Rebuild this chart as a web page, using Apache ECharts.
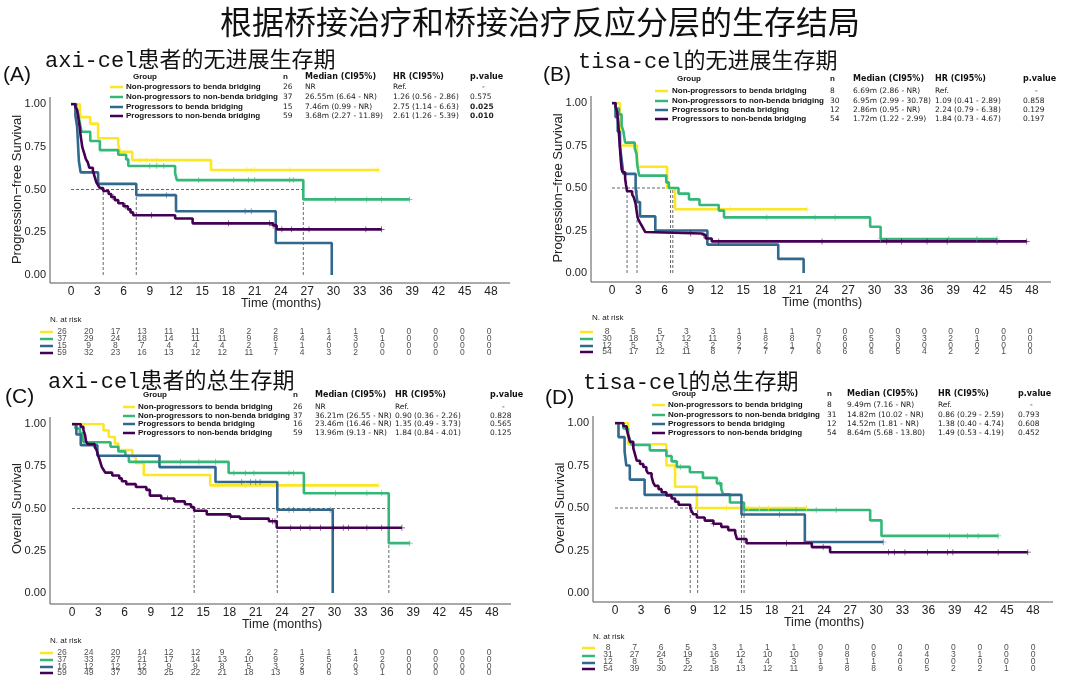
<!DOCTYPE html>
<html><head><meta charset="utf-8">
<script src="https://cdn.jsdelivr.net/npm/echarts/dist/echarts.min.js"></script>
<style>html,body{margin:0;padding:0;background:#fff}#c{width:1080px;height:688px}</style>
</head><body><div id="c"></div><script>
const TITLE = '根据桥接治疗和桥接治疗反应分层的生存结局';
const GROUPS = ['Non-progressors to benda bridging','Non-progressors to non-benda bridging','Progressors to benda bridging','Progressors to non-benda bridging'];
const COLORS = ['#FDE725','#35B779','#31688E','#440154'];
const RISK_TIMES = [0,3,6,9,12,15,18,21,24,27,30,33,36,39,42,45,48];

// ---------- Panel A : axi-cel PFS ----------
const subA = 'axi-cel患者的无进展生存期';
const kmA1 = [[0,1],[1.0,0.962],[1.1,0.923],[2.2,0.885],[3.1,0.80],[5.4,0.76],[5.6,0.72],[7.0,0.672],[16.0,0.614],[35.2,0.614]];
const kmA2 = [[0,1],[0.6,0.973],[0.8,0.946],[0.9,0.919],[1.0,0.892],[1.2,0.838],[2.2,0.784],[3.3,0.730],[5.4,0.703],[6.3,0.676],[6.55,0.637],[11.9,0.595],[12.1,0.555],[26.55,0.442],[38.7,0.442]];
const kmA3 = [[0,1],[0.5,0.933],[0.7,0.867],[0.9,0.667],[1.1,0.600],[3.1,0.533],[7.46,0.467],[12.0,0.373],[23.4,0.187],[29.8,0],[29.8,0]];
const kmA4 = [[0,1],[0.5,0.983],[0.7,0.966],[0.8,0.932],[0.9,0.898],[1.0,0.864],[1.1,0.814],[1.2,0.780],[1.3,0.746],[1.5,0.712],[1.7,0.678],[1.9,0.661],[2.1,0.627],[2.5,0.610],[2.7,0.576],[2.9,0.542],[3.1,0.525],[3.3,0.508],[3.68,0.491],[4.3,0.474],[4.6,0.456],[5.0,0.438],[5.4,0.420],[6.0,0.402],[6.5,0.384],[6.8,0.366],[7.1,0.349],[11.9,0.330],[13.9,0.302],[23.1,0.290],[23.5,0.267],[35.5,0.267]];
const censA1 = [7.9,8.6,9.8,20.1,20.6,21.0,25.0,35.1];
const censA2 = [9.0,9.8,10.6,14.6,18.6,20.3,21.0,25.0,25.4,30.2,33.8,35.5,38.7];
const censA3 = [10.9,19.9,20.6];
const censA4 = [4.8,6.2,9.2,18.0,22.7,23.1,24.1,25.2,27.2,33.7,35.5];
const riskA1 = [26,20,17,13,11,11,8,2,2,1,1,1,0,0,0,0,0];
const riskA2 = [37,29,24,18,14,11,11,9,8,4,4,3,1,0,0,0,0];
const riskA3 = [15,9,8,7,4,4,4,2,1,1,0,0,0,0,0,0,0];
const riskA4 = [59,32,23,16,13,12,12,11,7,4,3,2,0,0,0,0,0];
const nA = ['26','37','15','59'];
const medTxtA = ['NR','26.55m (6.64 - NR)','7.46m (0.99 - NR)','3.68m (2.27 - 11.89)'];
const hrA = ['Ref.','1.26 (0.56 - 2.86)','2.75 (1.14 - 6.63)','2.61 (1.26 - 5.39)'];
const pA = ['-','0.575','0.025','0.010'];
const pBoldA = [false,false,true,true];
const medA = [null,26.55,7.46,3.68];

// ---------- Panel B : tisa-cel PFS ----------
const subB = 'tisa-cel的无进展生存期';
const kmB1 = [[0,1],[0.9,0.875],[1.0,0.75],[2.86,0.625],[6.3,0.5],[7.2,0.375],[22.3,0.375]];
const kmB2 = [[0,1],[0.4,0.967],[0.8,0.933],[1.1,0.867],[1.3,0.833],[1.5,0.767],[2.6,0.733],[2.8,0.700],[2.9,0.633],[3.1,0.573],[6.2,0.533],[6.5,0.500],[7.6,0.467],[8.8,0.433],[10.0,0.400],[12.2,0.367],[12.8,0.327],[29.5,0.272],[30.7,0.200],[44.0,0.200]];
const kmB3 = [[0,1],[0.4,0.917],[0.65,0.833],[0.9,0.75],[1.1,0.667],[1.3,0.583],[2.7,0.5],[2.9,0.417],[3.2,0.333],[4.95,0.25],[10.9,0.167],[19.0,0.083],[21.9,0],[21.9,0]];
const kmB4 = [[0,1],[0.4,0.981],[0.6,0.944],[0.7,0.889],[0.8,0.815],[0.9,0.741],[1.0,0.667],[1.1,0.611],[1.2,0.593],[1.5,0.556],[1.6,0.519],[1.72,0.481],[2.3,0.463],[2.5,0.444],[2.7,0.407],[2.8,0.370],[2.9,0.333],[3.0,0.315],[3.2,0.296],[3.4,0.278],[3.6,0.259],[3.8,0.241],[4.0,0.232],[10.3,0.222],[10.7,0.203],[11.4,0.186],[47.4,0.186]];
const censB1 = [13.5,22.3];
const censB2 = [17.7,23.2,25.5,30.7,38.5,41.7,44.0];
const censB3 = [];
const censB4 = [9.0,10.5,12.2,24.0,31.4,33.1,36.0,38.3,44.0,47.4];
const riskB1 = [8,5,5,3,3,1,1,1,0,0,0,0,0,0,0,0,0];
const riskB2 = [30,18,17,12,11,9,8,8,7,6,5,3,3,2,1,0,0];
const riskB3 = [12,5,3,3,2,2,2,1,0,0,0,0,0,0,0,0,0];
const riskB4 = [54,17,12,11,8,7,7,7,6,6,6,5,4,2,2,1,0];
const nB = ['8','30','12','54'];
const medTxtB = ['6.69m (2.86 - NR)','6.95m (2.99 - 30.78)','2.86m (0.95 - NR)','1.72m (1.22 - 2.99)'];
const hrB = ['Ref.','1.09 (0.41 - 2.89)','2.24 (0.79 - 6.38)','1.84 (0.73 - 4.67)'];
const pB = ['-','0.858','0.129','0.197'];
const pBoldB = [false,false,false,false];
const medB = [6.69,6.95,2.86,1.72];

// ---------- Panel C : axi-cel OS ----------
const subC = 'axi-cel患者的总生存期';
const kmC1 = [[0,1],[3.6,0.962],[4.2,0.923],[4.9,0.885],[5.3,0.846],[6.9,0.808],[7.3,0.769],[8.2,0.698],[15.8,0.637],[35.0,0.637]];
const kmC2 = [[0,1],[0.4,0.973],[0.9,0.946],[1.2,0.919],[1.33,0.892],[4.4,0.865],[5.3,0.838],[6.1,0.811],[6.5,0.776],[17.9,0.710],[26.5,0.590],[36.2,0.295],[38.6,0.295]];
const kmC3 = [[0,1],[0.5,0.9375],[1.0,0.875],[2.9,0.8125],[10.0,0.745],[16.4,0.657],[23.46,0.493],[29.8,0],[29.8,0]];
const kmC4 = [[0,1],[1.0,0.983],[1.3,0.966],[1.5,0.932],[1.6,0.898],[1.8,0.881],[2.6,0.864],[2.8,0.847],[3.0,0.813],[3.2,0.780],[3.4,0.746],[3.6,0.729],[3.8,0.712],[4.6,0.695],[5.4,0.678],[5.7,0.661],[6.2,0.644],[7.3,0.627],[8.5,0.610],[8.9,0.576],[10.2,0.559],[11.7,0.542],[12.9,0.525],[13.6,0.508],[13.96,0.487],[15.4,0.465],[18.1,0.452],[19.2,0.440],[22.5,0.425],[23.4,0.386],[37.7,0.386]];
const censC1 = [16.6,19.8,35.0];
const censC2 = [10.1,12.4,14.5,16.4,18.5,19.8,20.8,24.8,25.3,30.1,33.7,35.4,38.6];
const censC3 = [19.4,20.4,21.0,21.5,24.8,25.3,27.2,29.5];
const censC4 = [10.9,18.1,22.9,23.2,25.0,26.1,27.2,28.4,29.9,31.0,31.6,33.7,35.4,37.7];
const riskC1 = [26,24,20,14,12,12,9,2,2,1,1,1,0,0,0,0,0];
const riskC2 = [37,33,27,21,17,14,13,10,9,5,5,4,2,0,0,0,0];
const riskC3 = [16,12,12,12,9,9,8,5,3,2,0,0,0,0,0,0,0];
const riskC4 = [59,49,37,30,25,22,21,18,13,9,6,3,1,0,0,0,0];
const nC = ['26','37','16','59'];
const medTxtC = ['NR','36.21m (26.55 - NR)','23.46m (16.46 - NR)','13.96m (9.13 - NR)'];
const hrC = ['Ref.','0.90 (0.36 - 2.26)','1.35 (0.49 - 3.73)','1.84 (0.84 - 4.01)'];
const pC = ['-','0.828','0.565','0.125'];
const pBoldC = [false,false,false,false];
const medC = [null,36.21,23.46,13.96];

// ---------- Panel D : tisa-cel OS ----------
const subD = 'tisa-cel的总生存期';
const kmD1 = [[0,1],[1.5,0.875],[5.9,0.75],[6.9,0.625],[9.4,0.5],[22.0,0.5]];
const kmD2 = [[0,1],[0.96,0.968],[1.5,0.935],[1.7,0.903],[1.9,0.871],[4.0,0.839],[5.9,0.806],[6.5,0.774],[7.1,0.742],[8.6,0.710],[10.1,0.677],[11.7,0.645],[12.2,0.613],[12.4,0.581],[13.2,0.532],[14.82,0.488],[29.3,0.427],[30.6,0.336],[44.0,0.336]];
const kmD3 = [[0,1],[0.4,0.917],[1.1,0.833],[1.3,0.75],[1.7,0.667],[3.4,0.577],[14.52,0.462],[21.8,0.30],[30.8,0.30]];
const kmD4 = [[0,1],[0.96,0.981],[1.34,0.963],[1.53,0.926],[1.72,0.889],[2.1,0.852],[2.3,0.815],[2.5,0.778],[2.87,0.759],[3.25,0.741],[3.6,0.722],[3.8,0.704],[4.2,0.685],[4.4,0.648],[4.6,0.630],[5.0,0.611],[5.35,0.593],[5.9,0.574],[6.5,0.556],[6.9,0.537],[7.3,0.519],[8.64,0.500],[8.8,0.481],[9.0,0.463],[9.4,0.444],[10.3,0.426],[11.3,0.407],[12.2,0.389],[13.0,0.370],[13.8,0.352],[14.0,0.318],[15.1,0.293],[22.6,0.270],[24.7,0.240],[47.4,0.240]];
const censD1 = [12.8,15.3,16.6,17.6,22.0];
const censD2 = [7.5,12.0,20.8,23.1,25.4,38.4,40.5,41.7,44.0];
const censD3 = [18.9,30.8];
const censD4 = [11.3,19.7,23.9,31.4,32.1,33.3,35.9,38.2,38.8,44.0,47.4];
const riskD1 = [8,7,6,5,3,1,1,1,0,0,0,0,0,0,0,0,0];
const riskD2 = [31,27,24,19,16,12,10,10,9,8,6,4,4,3,1,0,0];
const riskD3 = [12,8,5,5,5,4,4,3,1,1,1,0,0,0,0,0,0];
const riskD4 = [54,39,30,22,18,13,12,11,9,8,8,6,5,2,2,1,0];
const nD = ['8','31','12','54'];
const medTxtD = ['9.49m (7.16 - NR)','14.82m (10.02 - NR)','14.52m (1.81 - NR)','8.64m (5.68 - 13.80)'];
const hrD = ['Ref.','0.86 (0.29 - 2.59)','1.38 (0.40 - 4.74)','1.49 (0.53 - 4.19)'];
const pD = ['-','0.793','0.608','0.452'];
const pBoldD = [false,false,false,false];
const medD = [9.49,14.82,14.52,8.64];

// ---------- layout (positions only) ----------
const panels = [
 {lab:'(A)', sub:subA, yname:'Progression\u2212free Survival', km:[kmA1,kmA2,kmA3,kmA4], cens:[censA1,censA2,censA3,censA4], risk:[riskA1,riskA2,riskA3,riskA4], n:nA, med:medTxtA, hr:hrA, p:pA, pb:pBoldA, medv:medA,
  x0:71,x48:491,y1:104,y0:275,ax:50,ay:283,ftop:97,fright:510, labXY:[3,75], subXY:[45,61],
  lg:{hy:77,rows:[87,97,107,116],sw:[110,123],nameX:126,groupX:133,nX:283,medX:305,hrX:393,pX:470},
  rk:{x0:62,x48:489,rows:[332,339,346,353],sw:[40,53],natX:50,natY:320}},
 {lab:'(B)', sub:subB, yname:'Progression\u2212free Survival', km:[kmB1,kmB2,kmB3,kmB4], cens:[censB1,censB2,censB3,censB4], risk:[riskB1,riskB2,riskB3,riskB4], n:nB, med:medTxtB, hr:hrB, p:pB, pb:pBoldB, medv:medB,
  x0:612,x48:1032,y1:103,y0:273,ax:591,ay:282,ftop:96,fright:1051, labXY:[543,75], subXY:[578,62],
  lg:{hy:79,rows:[91,101,110,119],sw:[655,668],nameX:672,groupX:677,nX:830,medX:853,hrX:935,pX:1023},
  rk:{x0:607,x48:1030,rows:[332,339,346,352],sw:[580,593],natX:592,natY:318}},
 {lab:'(C)', sub:subC, yname:'Overall Survival', km:[kmC1,kmC2,kmC3,kmC4], cens:[censC1,censC2,censC3,censC4], risk:[riskC1,riskC2,riskC3,riskC4], n:nC, med:medTxtC, hr:hrC, p:pC, pb:pBoldC, medv:medC,
  x0:72,x48:492,y1:424,y0:593,ax:50,ay:604,ftop:417,fright:511, labXY:[5,397], subXY:[48,382],
  lg:{hy:395,rows:[407,416,424,433],sw:[123,135],nameX:138,groupX:143,nX:293,medX:315,hrX:395,pX:490},
  rk:{x0:62,x48:489,rows:[653,660,667,673],sw:[40,53],natX:50,natY:641}},
 {lab:'(D)', sub:subD, yname:'Overall Survival', km:[kmD1,kmD2,kmD3,kmD4], cens:[censD1,censD2,censD3,censD4], risk:[riskD1,riskD2,riskD3,riskD4], n:nD, med:medTxtD, hr:hrD, p:pD, pb:pBoldD, medv:medD,
  x0:615,x48:1033,y1:423,y0:593,ax:593,ay:602,ftop:416,fright:1053, labXY:[545,398], subXY:[583,383],
  lg:{hy:394,rows:[405,415,424,433],sw:[652,665],nameX:668,groupX:672,nX:827,medX:847,hrX:938,pX:1018},
  rk:{x0:608,x48:1033,rows:[648,656,663,669],sw:[582,595],natX:593,natY:637}}
];

function survAt(km, t){ let y = km[0][1]; for (const [x,v] of km){ if (x <= t) y = v; else break; } return y; }
const PLUS = 'path://M-0.6,-5H0.6V-0.6H5V0.6H0.6V5H-0.6V0.6H-5V-0.6H-0.6Z';
const SANS = '"Liberation Sans", Arial, sans-serif';

const grid=[], xAxis=[], yAxis=[], series=[], g=[];
g.push({type:'text', x:540, y:22, style:{text:TITLE, fill:'#111', fontSize:32, fontFamily:'"Noto Sans CJK SC"', align:'center', verticalAlign:'middle'}});

panels.forEach((P, pi) => {
  const gi = grid.length;
  grid.push({left:P.x0, top:P.y1, width:P.x48-P.x0, height:P.y0-P.y1});
  xAxis.push({type:'value', gridIndex:gi, min:0, max:48, interval:3, offset:P.ay-P.y0,
    axisLine:{show:false}, axisTick:{show:false},
    axisLabel:{fontSize:12, color:'#222', margin:3, fontFamily:SANS}, splitLine:{show:false},
    name:'Time (months)', nameLocation:'middle', nameGap:14, nameMoveOverlap:false, nameTextStyle:{fontSize:12.5, color:'#222', fontFamily:SANS}});
  yAxis.push({type:'value', gridIndex:gi, min:0, max:1, interval:0.25, offset:P.x0-P.ax,
    axisLine:{show:false}, axisTick:{show:false},
    axisLabel:{fontSize:11, color:'#222', margin:4, fontFamily:SANS, formatter:v=>v.toFixed(2)}, splitLine:{show:false},
    name:P.yname, nameLocation:'middle', nameGap:26, nameMoveOverlap:false, nameRotate:90, nameTextStyle:{fontSize:13, color:'#222', fontFamily:SANS}});
  // frame lines
  g.push({type:'line', shape:{x1:P.ax, y1:P.ftop, x2:P.ax, y2:P.ay}, style:{stroke:'#555', lineWidth:1}});
  g.push({type:'line', shape:{x1:P.ax, y1:P.ay, x2:P.fright, y2:P.ay}, style:{stroke:'#555', lineWidth:1}});
  // median dashed lines
  const meds = P.medv.filter(v => v !== null);
  const mmax = Math.max(...meds);
  const dash = {type:'line', xAxisIndex:gi, yAxisIndex:gi, showSymbol:false, silent:true, z:1,
    lineStyle:{color:'#555', width:0.9, type:[3,2]}};
  series.push(Object.assign({}, dash, {data:[[0,0.5],[mmax,0.5]]}));
  meds.forEach(m => series.push(Object.assign({}, dash, {data:[[m,0],[m,0.5]]})));
  // KM curves
  P.km.forEach((km, k) => {
    series.push({type:'line', step:'end', xAxisIndex:gi, yAxisIndex:gi, data:km, showSymbol:false, z:2+k,
      lineStyle:{color:COLORS[k], width:2.6}, itemStyle:{color:COLORS[k]}});
  });
  P.cens.forEach((cs, k) => {
    series.push({type:'scatter', xAxisIndex:gi, yAxisIndex:gi, symbol:PLUS, symbolSize:6, z:6,
      data:cs.map(t => [t, survAt(P.km[k], t)]), itemStyle:{color:COLORS[k]}});
  });
  // risk table
  const R = P.rk;
  const s = (R.rows[3]-R.rows[0])/3;
  const rg = grid.length;
  grid.push({left:R.x0, top:R.rows[0]-s/2, width:R.x48-R.x0, height:4*s});
  xAxis.push({type:'value', gridIndex:rg, min:0, max:48, show:false});
  yAxis.push({type:'category', gridIndex:rg, data:GROUPS, inverse:true, show:false});
  P.risk.forEach((arr, k) => {
    series.push({type:'scatter', xAxisIndex:rg, yAxisIndex:rg, symbolSize:1, itemStyle:{color:'rgba(0,0,0,0)'},
      data:RISK_TIMES.map((t,i) => [t, k, arr[i]]),
      label:{show:true, position:'inside', formatter:q=>String(q.value[2]), fontSize:8.5, color:'#222', fontFamily:SANS}});
    g.push({type:'line', shape:{x1:R.sw[0], y1:R.rows[k], x2:R.sw[1], y2:R.rows[k]}, style:{stroke:COLORS[k], lineWidth:2.5}});
  });
  g.push({type:'text', x:R.natX, y:R.natY, style:{text:'N. at risk', fill:'#222', fontSize:8, fontFamily:SANS, verticalAlign:'middle'}});
  // subtitles & labels
  g.push({type:'text', x:P.labXY[0], y:P.labXY[1], style:{text:P.lab, fill:'#111', fontSize:21, fontFamily:SANS, verticalAlign:'middle'}});
  g.push({type:'text', x:P.subXY[0], y:P.subXY[1], style:{text:P.sub, fill:'#111', fontSize:22, fontFamily:'"Liberation Mono","Noto Sans CJK SC"', verticalAlign:'middle'}});
  // legend table
  const L = P.lg;
  const hdr = (txt, x, fam) => g.push({type:'text', x:x, y:L.hy, style:{text:txt, fill:'#111', fontSize:8, fontWeight:'bold', fontFamily:fam, verticalAlign:'middle'}});
  hdr('Group', L.groupX, SANS); hdr('n', L.nX, SANS);
  hdr('Median (CI95%)', L.medX, '"DejaVu Sans"'); hdr('HR (CI95%)', L.hrX, '"DejaVu Sans"'); hdr('p.value', L.pX, '"DejaVu Sans"');
  GROUPS.forEach((name, k) => {
    const y = L.rows[k];
    g.push({type:'line', shape:{x1:L.sw[0], y1:y, x2:L.sw[1], y2:y}, style:{stroke:COLORS[k], lineWidth:2.5}});
    g.push({type:'text', x:L.nameX, y:y, style:{text:name, fill:'#111', fontSize:8, fontWeight:'bold', fontFamily:SANS, verticalAlign:'middle'}});
    const val = (txt, x, bold) => g.push({type:'text', x:x, y:y, style:{text:txt, fill:'#222', fontSize:7.5, fontWeight:bold?'bold':'normal', fontFamily:'"DejaVu Sans"', verticalAlign:'middle'}});
    val(P.n[k], L.nX, false);
    val(P.med[k], L.medX, false);
    val(P.hr[k], L.hrX, false);
    val(P.p[k], P.p[k] === '-' ? L.pX + 12 : L.pX, P.pb[k]);
  });
});

const chart = echarts.init(document.getElementById('c'));
chart.setOption({animation:false, backgroundColor:'#fff', grid, xAxis, yAxis, series, graphic:{elements:g}});
</script></body></html>
